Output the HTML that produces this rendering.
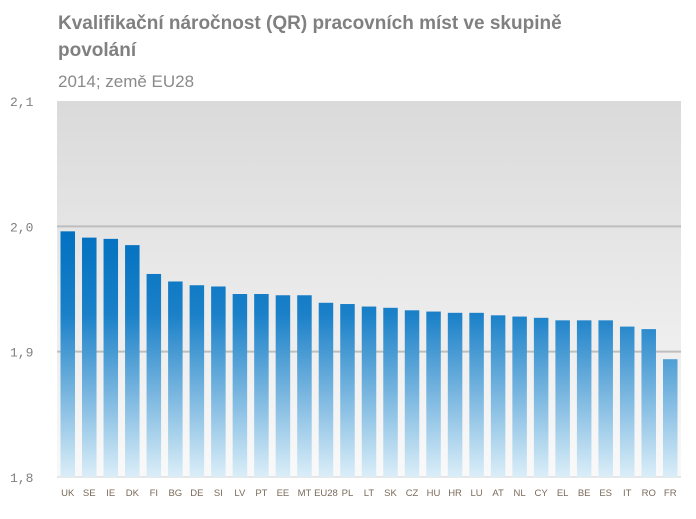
<!DOCTYPE html>
<html><head><meta charset="utf-8"><style>
body{margin:0;background:#fff;width:696px;height:519px;overflow:hidden;font-family:"Liberation Sans",sans-serif}
.t{position:absolute;left:58px;color:#7f7f7f}
</style></head><body>
<div class="t" style="top:10px;font-size:19px;font-weight:bold;line-height:27px;color:#808080">Kvalifikační náročnost (QR) pracovních míst ve skupině<br>povolání</div>
<div class="t" style="top:72px;font-size:17px;color:#8a8a8a">2014; země EU28</div>
<svg id="c" width="696" height="519" style="position:absolute;left:0;top:0">
<defs>
<linearGradient id="bg" x1="0" y1="0" x2="0" y2="1"><stop offset="0" stop-color="#dadada"/><stop offset="1" stop-color="#f9f9f9"/></linearGradient>
<linearGradient id="bar" gradientUnits="userSpaceOnUse" x1="0" y1="226" x2="0" y2="477"><stop offset="0" stop-color="#0070c0"/><stop offset="0.35" stop-color="#1a80c8"/><stop offset="1" stop-color="#dbeef8"/></linearGradient>
</defs>
</svg>
<script>
const categories=["UK","SE","IE","DK","FI","BG","DE","SI","LV","PT","EE","MT","EU28","PL","LT","SK","CZ","HU","HR","LU","AT","NL","CY","EL","BE","ES","IT","RO","FR"];
const values=[1.996,1.991,1.990,1.985,1.962,1.956,1.953,1.952,1.946,1.946,1.945,1.945,1.939,1.938,1.936,1.935,1.933,1.932,1.931,1.931,1.929,1.928,1.927,1.925,1.925,1.925,1.920,1.918,1.894];
const ticks=[1.8,1.9,2.0,2.1];
const tickLabels=["1,8","1,9","2,0","2,1"];
const NS="http://www.w3.org/2000/svg";
const svg=document.getElementById('c');
const X0=57,X1=681,Y0=477,Y1=101,VMIN=1.8,VMAX=2.1;
const y=v=>Y0-(v-VMIN)/(VMAX-VMIN)*(Y0-Y1);
const step=(X1-X0)/categories.length;
const x=i=>X0+i*step;
function mk(t,a){const e=document.createElementNS(NS,t);for(const k in a)e.setAttribute(k,a[k]);svg.appendChild(e);return e;}
const bgr=mk('rect',{x:X0,y:Y1,width:X1-X0,height:Y0-Y1,fill:'url(#bg)'});


ticks.forEach((t,i)=>{
  if(i>0&&i<ticks.length-1){const g=mk('line',{x1:X0,x2:X1,y1:y(t),y2:y(t),stroke:'#bdbdbd','stroke-width':2});
  
  }
  const l=mk('text',{x:10,y:y(t)+5,'font-size':13,fill:'#7f7f7f','font-family':'Liberation Mono, monospace'});
  l.textContent=tickLabels[i];
  
  
});
const ax=mk('line',{x1:X0,x2:X1,y1:Y0,y2:Y0,stroke:'#d0d0d0','stroke-width':1});


categories.forEach((c,i)=>{
  const bw=14.5,bx=x(i)+(step-bw)/2;
  const b=mk('rect',{x:bx,y:y(values[i]),width:bw,height:Y0-y(values[i]),fill:'url(#bar)'});
  
  
  const l=mk('text',{x:x(i)+step/2,y:496,'font-size':9.5,fill:'#7a6a5a','text-anchor':'middle'});
  l.textContent=c;
  
  
});
</script>
</body></html>
